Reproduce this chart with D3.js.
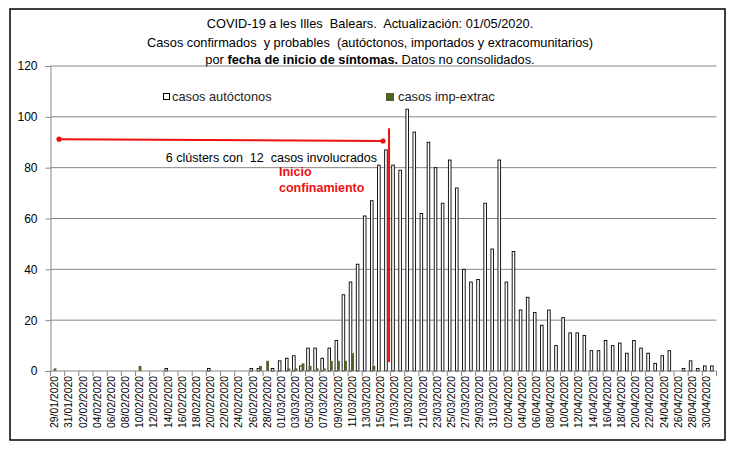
<!DOCTYPE html>
<html lang="es">
<head>
  <meta charset="UTF-8">
  <title>COVID-19 Illes Balears - fecha de inicio de síntomas</title>
  <script src="https://d3js.org/d3.v7.min.js"></script>
  <style>
    body {
      margin: 0;
      background: #fff;
    }
    svg text {
      font-family: "Liberation Sans", Arial, sans-serif;
      white-space: pre;
    }
  </style>
</head>
<body>
  <div id="chart"></div>

  <script>
    // días 29/01/2020 .. 01/05/2020 (categorías)
    const dates = d3.utcDay.range(new Date(Date.UTC(2020, 0, 29)), new Date(Date.UTC(2020, 4, 2)));
    const fmt = d3.utcFormat("%d/%m/%Y");
    const categories = dates.map(fmt);

    // casos autóctonos por día
    const autoctonos = [
      0, 0, 0, 0, 0, 0, 0, 0, 0, 0, 0, 0, 0, 0, 0, 0,   // 29/01 - 13/02
      1, 0, 0, 0, 0, 0, 1, 0, 0, 0, 0, 0, 1, 1, 0, 1,   // 14/02 - 29/02
      4, 5, 6, 2, 9, 9, 5, 9, 12, 30, 35, 42, 61, 67, 81, 87,   // 01/03 - 16/03
      81, 79, 103, 94, 62, 90, 80, 66, 83, 72, 40, 35, 36, 66, 48,   // 17/03 - 31/03
      83, 35, 47, 24, 29, 23, 18, 24, 10, 21, 15, 15, 14, 8, 8,   // 01/04 - 15/04
      12, 10, 11, 7, 12, 9, 7, 3, 6, 8, 0, 1, 4, 1, 2,   // 16/04 - 30/04
      2   // 01/05
    ];

    // casos importados y extracomunitarios por día
    const impExtrac = [
      1, 0, 0, 0, 0, 0, 0, 0, 0, 0, 0, 0, 2, 0, 0, 0,   // 29/01 - 13/02
      0, 0, 0, 0, 0, 0, 0, 0, 0, 0, 0, 0, 0, 2, 4, 0,   // 14/02 - 29/02
      0, 1, 1, 3, 2, 1, 1, 4, 4, 4, 7, 0, 0, 2, 0, 0,   // 01/03 - 16/03
      0, 0, 0, 0, 0, 0, 0, 0, 0, 0, 0, 0, 0, 0, 0,
      0, 0, 0, 0, 0, 0, 0, 0, 0, 0, 0, 0, 0, 0, 0,
      0, 0, 0, 0, 0, 0, 0, 0, 0, 0, 0, 0, 0, 0, 0,
      0
    ];

    const yTicks = [0, 20, 40, 60, 80, 100, 120];
    const xLabels = categories.filter((d, i) => i % 2 === 0 && i < 93);

    const width = 737, height = 452;
    const plotL = 50.5, plotR = 716.5, plotT = 66, plotB = 371;

    const svg = d3.select("#chart")
      .append("svg")
      .attr("width", width)
      .attr("height", height);

    // marco
    svg.append("rect")
      .attr("x", 10).attr("y", 9)
      .attr("width", 715).attr("height", 431)
      .attr("fill", "none")
      .attr("stroke", "#000")
      .attr("stroke-width", 1.5);

    const x = d3.scaleBand().domain(categories).range([plotL, plotR]).padding(0);
    const y = d3.scaleLinear().domain([0, 120]).range([plotB, plotT]);
    const step = x.step();
    const cx = d => x(d) + step / 2;

    // título
    const title = svg.append("g")
      .attr("text-anchor", "middle")
      .style("font-size", "12.8px")
      .attr("fill", "#000");
    title.append("text").attr("x", 370).attr("y", 28)
      .text("COVID-19 a les Illes  Balears.  Actualización: 01/05/2020.");
    title.append("text").attr("x", 370).attr("y", 47)
      .text("Casos confirmados  y probables  (autóctonos, importados y extracomunitarios)");
    const t3 = title.append("text").attr("x", 370).attr("y", 64);
    t3.append("tspan").text("por ");
    t3.append("tspan").style("font-weight", "bold").text("fecha de inicio de síntomas.");
    t3.append("tspan").text(" Datos no consolidados.");

    // rejilla
    svg.append("g")
      .selectAll("line")
      .data(yTicks.filter(d => d > 0))
      .join("line")
      .attr("x1", plotL).attr("x2", plotR)
      .attr("y1", d => y(d)).attr("y2", d => y(d))
      .attr("stroke", "#868686")
      .attr("stroke-width", 1);

    // eje Y
    const yAxis = svg.append("g")
      .attr("transform", `translate(${plotL},0)`)
      .call(d3.axisLeft(y).tickValues(yTicks).tickSize(5).tickPadding(8));
    yAxis.select(".domain").attr("stroke", "#868686");
    yAxis.selectAll(".tick line").attr("stroke", "#868686");
    yAxis.selectAll(".tick text")
      .style("font-family", "Liberation Sans, Arial, sans-serif")
      .style("font-size", "12px")
      .attr("fill", "#000");

    // barras
    svg.append("g")
      .selectAll("rect")
      .data(categories.map((c, i) => ({ c, v: autoctonos[i] })).filter(d => d.v > 0))
      .join("rect")
      .attr("x", d => cx(d.c) - 2.4)
      .attr("y", d => y(d.v))
      .attr("width", 2.6)
      .attr("height", d => y(0) - y(d.v))
      .attr("fill", "#fff")
      .attr("stroke", "#000")
      .attr("stroke-width", 0.9);

    svg.append("g")
      .selectAll("rect")
      .data(categories.map((c, i) => ({ c, v: impExtrac[i] })).filter(d => d.v > 0))
      .join("rect")
      .attr("x", d => cx(d.c) - 0.4)
      .attr("y", d => y(d.v))
      .attr("width", 2.8)
      .attr("height", d => y(0) - y(d.v))
      .attr("fill", "#4f6228");

    // eje X
    svg.append("line")
      .attr("x1", plotL).attr("x2", plotR)
      .attr("y1", plotB).attr("y2", plotB)
      .attr("stroke", "#868686");

    svg.append("g")
      .selectAll("line")
      .data(categories.filter((d, i) => i % 2 === 0).concat([null]))
      .join("line")
      .attr("x1", d => d ? x(d) : plotR)
      .attr("x2", d => d ? x(d) : plotR)
      .attr("y1", plotB).attr("y2", plotB + 5)
      .attr("stroke", "#868686");

    svg.append("g")
      .selectAll("text")
      .data(xLabels)
      .join("text")
      .attr("transform", d => `translate(${cx(d) + 0.5},${plotB + 5}) rotate(-90)`)
      .attr("text-anchor", "end")
      .attr("dy", "0.35em")
      .style("font-size", "10.4px")
      .attr("fill", "#000")
      .text(d => d);

    // leyenda
    const legend = svg.append("g").style("font-size", "12.8px");
    legend.append("rect")
      .attr("x", 163.5).attr("y", 93.5).attr("width", 6).attr("height", 6)
      .attr("fill", "#fff").attr("stroke", "#000");
    legend.append("text").attr("x", 172).attr("y", 101).attr("fill", "#222")
      .text("casos autóctonos");
    legend.append("rect")
      .attr("x", 386).attr("y", 93).attr("width", 8).attr("height", 8)
      .attr("fill", "#4f6228");
    legend.append("text").attr("x", 398).attr("y", 101).attr("fill", "#222")
      .text("casos imp-extrac");

    // anotaciones
    const red = "#ee1111";
    const ax0 = cx(categories[0]) + 5, ax1 = cx("15/03/2020") + 3;
    svg.append("line")
      .attr("x1", ax0).attr("y1", y(91.2))
      .attr("x2", ax1).attr("y2", y(90.5))
      .attr("stroke", red).attr("stroke-width", 2);
    svg.selectAll("circle.dot")
      .data([[ax0, y(91.2)], [ax1, y(90.5)]])
      .join("circle")
      .attr("class", "dot")
      .attr("cx", d => d[0]).attr("cy", d => d[1])
      .attr("r", 2.6)
      .attr("fill", red);

    svg.append("text")
      .attr("x", 377).attr("y", 162)
      .attr("text-anchor", "end")
      .style("font-size", "12.5px")
      .attr("fill", "#000")
      .text("6 clústers con  12  casos involucrados");

    const xl = cx("16/03/2020") + 2;
    svg.append("line")
      .attr("x1", xl).attr("x2", xl)
      .attr("y1", y(95.5)).attr("y2", y(3.5))
      .attr("stroke", red).attr("stroke-width", 2);

    const conf = svg.append("g")
      .style("font-size", "12.5px")
      .style("font-weight", "bold")
      .attr("fill", red);
    conf.append("text").attr("x", 279).attr("y", 176).text("Inicio");
    conf.append("text").attr("x", 279).attr("y", 192).text("confinamiento");
  </script>
</body>
</html>
